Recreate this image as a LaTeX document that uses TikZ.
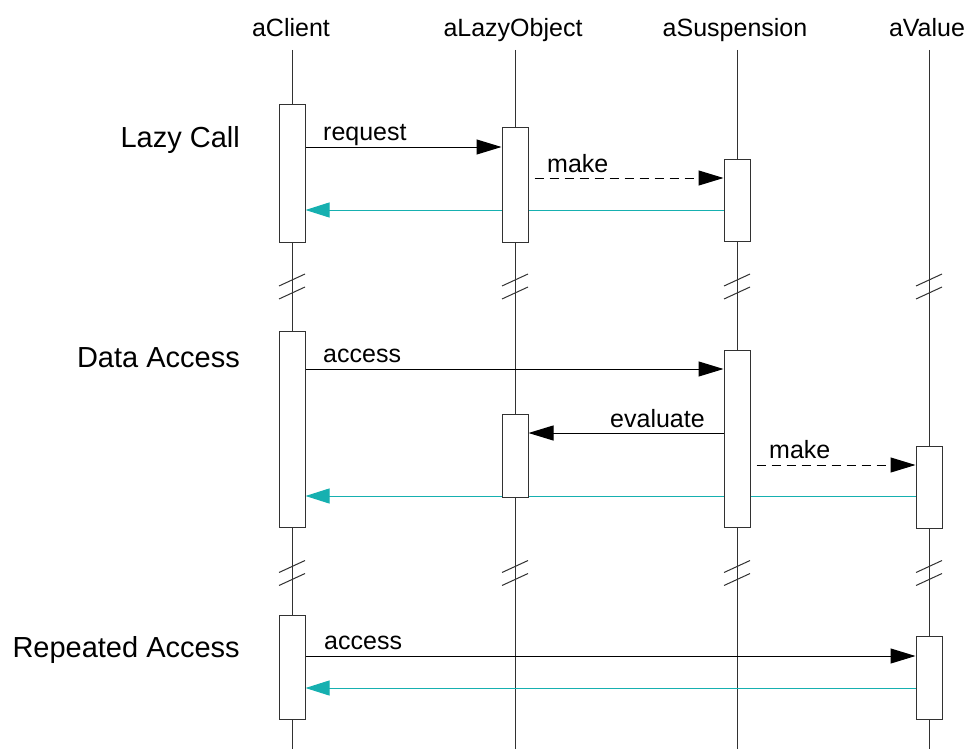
\documentclass[tikz,border=0pt]{standalone}
\usepackage{fontspec}
\setmainfont{Liberation Sans}
\usetikzlibrary{arrows.meta}
\definecolor{replyteal}{RGB}{22,176,176}
\definecolor{inkgray}{RGB}{50,50,50}
\pgfdeclarelayer{back}
\pgfdeclarelayer{mid}
\pgfsetlayers{back,mid,main}
\tikzset{
  lifeline/.style={draw=inkgray, line width=1pt},
  actbox/.style={rectangle, draw=inkgray, fill=white, line width=1pt,
                 minimum width=26pt, inner sep=0pt},
  msg/.style={draw=black, line width=1pt, -{Triangle[length=25pt,width=15pt]}},
  create/.style={msg, dash pattern=on 9pt off 6pt},
  reply/.style={draw=replyteal, line width=1pt,
                -{Triangle[length=24pt,width=15pt,fill=replyteal]}},
  hdr/.style={font=\fontsize{25}{30}\selectfont, anchor=base, inner sep=0pt},
  phase/.style={font=\fontsize{29}{34}\selectfont, anchor=base east, inner sep=0pt},
  lbl/.style={font=\fontsize{25}{30}\selectfont, anchor=base west, inner sep=0pt},
  brk/.style={draw=inkgray, line width=1pt},
}
\begin{document}
\begin{tikzpicture}[x=1pt, y=-1pt]
\useasboundingbox (0,0) rectangle (968,749);

% object headers
\node[hdr] (hC) at (291,37) {aClient};
\node[hdr] (hO) at (513,37) {aLazyObject};
\node[hdr] (hS) at (735,37) {aSuspension};
\node[hdr] (hV) at (927,37) {aValue};

% lifeline ends
\coordinate (lC1) at (292,50);  \coordinate (lC2) at (292,749);
\coordinate (lO1) at (515,50);  \coordinate (lO2) at (515,749);
\coordinate (lS1) at (737,50);  \coordinate (lS2) at (737,749);
\coordinate (lV1) at (929,50);  \coordinate (lV2) at (929,749);

\begin{pgfonlayer}{back}
  \draw[lifeline] (lC1) -- (lC2);
  \draw[lifeline] (lO1) -- (lO2);
  \draw[lifeline] (lS1) -- (lS2);
  \draw[lifeline] (lV1) -- (lV2);
\end{pgfonlayer}

% phase captions
\node[phase] (p1) at (240,147) {Lazy Call};
\node[phase] (p2) at (240,367) {Data Access};
\node[phase] (p3) at (240,657) {Repeated Access};

% activation bars: lazy call
\node[actbox, minimum height=137pt] (c1) at (292,173.5) {};
\node[actbox, minimum height=115pt] (o1) at (515,184.5) {};
\node[actbox, minimum height=82pt]  (s1) at (737,200) {};

% activation bars: data access
\node[actbox, minimum height=196pt] (c2) at (292,429) {};
\node[actbox, minimum height=177pt] (s2) at (737,438.5) {};
\node[actbox, minimum height=83pt]  (o2) at (515,455.5) {};
\node[actbox, minimum height=82pt]  (v2) at (929,487) {};

% activation bars: repeated access
\node[actbox, minimum height=104pt] (c3) at (292,667) {};
\node[actbox, minimum height=83pt]  (v3) at (929,677.5) {};

% message heights
\coordinate (yReq) at (0,147);
\coordinate (yMk1) at (0,178);
\coordinate (yRt1) at (0,210);
\coordinate (yAc2) at (0,369);
\coordinate (yEv)  at (0,433);
\coordinate (yMk2) at (0,465);
\coordinate (yRt2) at (0,496);
\coordinate (yAc3) at (0,656);
\coordinate (yRt3) at (0,688);

\begin{pgfonlayer}{mid}
  % lazy call
  \draw[msg]    (c1.east |- yReq) -- (o1.west |- yReq);
  \draw[create] ([xshift=6pt]o1.east |- yMk1) -- (s1.west |- yMk1);
  \draw[reply]  (s1.west |- yRt1) -- (c1.east |- yRt1);
  % data access
  \draw[msg]    (c2.east |- yAc2) -- (s2.west |- yAc2);
  \draw[msg]    (s2.west |- yEv) -- (o2.east |- yEv);
  \draw[create] ([xshift=6pt]s2.east |- yMk2) -- (v2.west |- yMk2);
  \draw[reply]  (v2.west |- yRt2) -- (c2.east |- yRt2);
  % repeated access
  \draw[msg]    (c3.east |- yAc3) -- (v3.west |- yAc3);
  \draw[reply]  (v3.west |- yRt3) -- (c3.east |- yRt3);
\end{pgfonlayer}

% message labels
\node[lbl] (tReq) at (323,140) {request};
\node[lbl] (tMk1) at (547,172) {make};
\node[lbl] (tAc2) at (323,362) {access};
\node[lbl] (tEv)  at (610,427) {evaluate};
\node[lbl] (tMk2) at (769,458) {make};
\node[lbl] (tAc3) at (324,649) {access};

% broken-time marks on every lifeline
\foreach \lx in {292,515,737,929}{
  \foreach \by in {280,293,566.5,579.5}{
    \draw[brk] (\lx-13,\by+6) -- (\lx+13,\by-6);
  }
}
\end{tikzpicture}
\end{document}
